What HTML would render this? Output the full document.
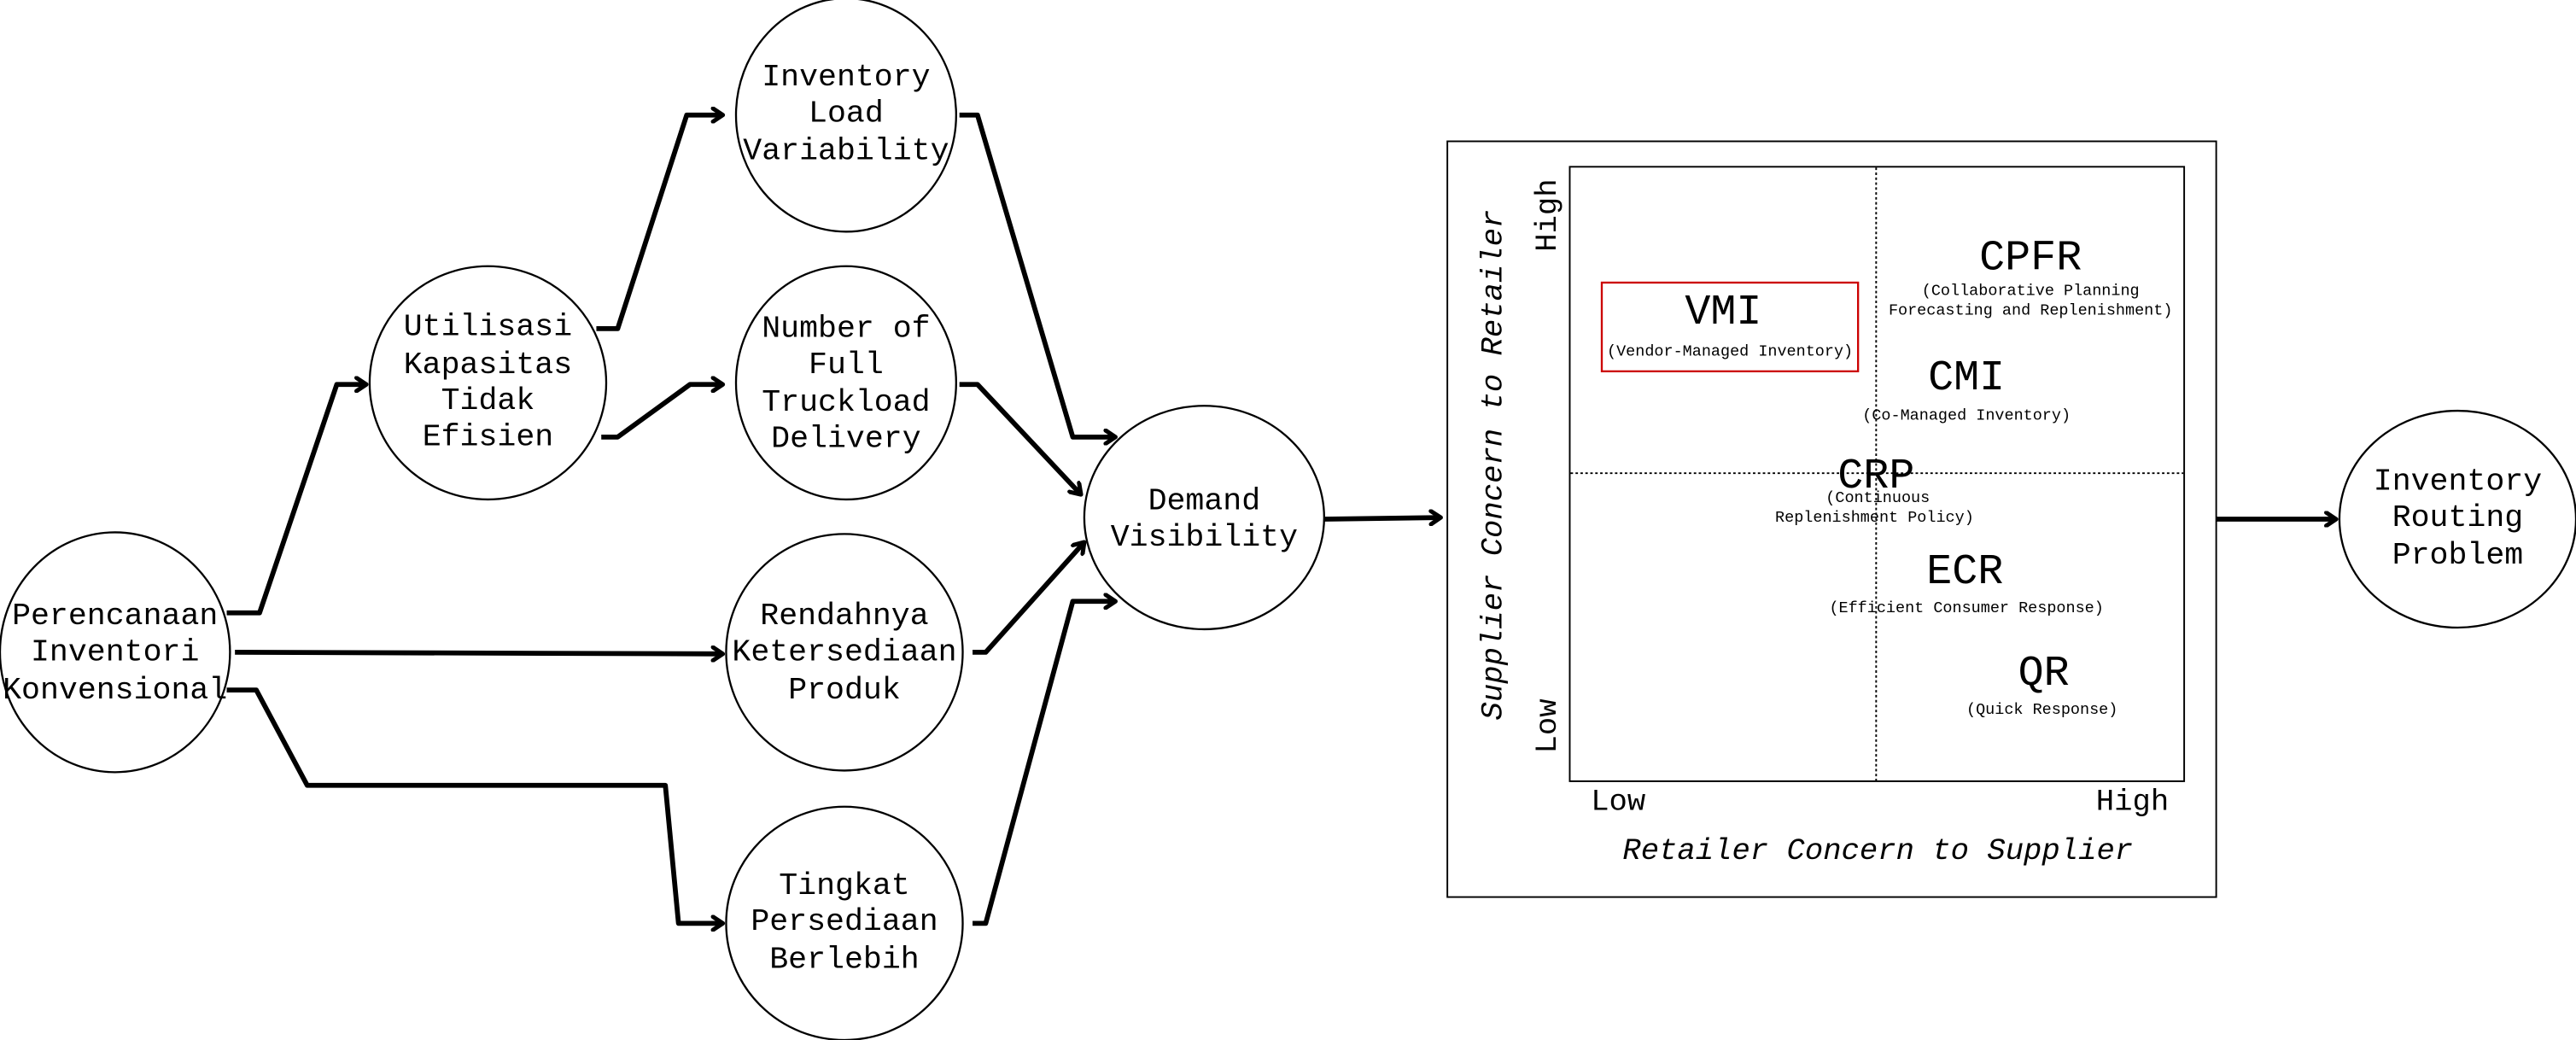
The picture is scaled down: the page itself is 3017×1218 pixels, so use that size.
<!DOCTYPE html>
<html><head><meta charset="utf-8"><style>
html,body{margin:0;padding:0;background:#fff;}
svg{display:block;}
text{font-family:"Liberation Mono",monospace;fill:#000;}
.n{font-size:19px;text-anchor:middle;dominant-baseline:middle;}
.big{font-size:26px;text-anchor:middle;dominant-baseline:middle;}
.sub{font-size:9.6px;text-anchor:middle;dominant-baseline:middle;}
.ax{font-size:18.5px;text-anchor:middle;dominant-baseline:middle;}
.it{font-size:18.5px;font-style:italic;text-anchor:middle;dominant-baseline:middle;}
</style></head><body>
<svg width="3017" height="1218" viewBox="0 0 1568 633" xmlns="http://www.w3.org/2000/svg">
<defs>
<marker id="a" markerWidth="10" markerHeight="10" refX="8" refY="5" orient="auto" markerUnits="userSpaceOnUse">
<path d="M2,1 L8,5 L2,9" fill="none" stroke="#000" stroke-width="2.6" stroke-linecap="round" stroke-linejoin="round"/>
</marker>
</defs>
<g fill="none" stroke="#000" stroke-width="1.2">
<ellipse cx="70" cy="397" rx="70" ry="73"/>
<ellipse cx="297" cy="233" rx="72" ry="71"/>
<ellipse cx="515" cy="70" rx="67" ry="71"/>
<ellipse cx="515" cy="233" rx="67" ry="71"/>
<ellipse cx="514" cy="397" rx="72" ry="72"/>
<ellipse cx="514" cy="562" rx="72" ry="71"/>
<ellipse cx="733" cy="315" rx="73" ry="68"/>
<ellipse cx="1496" cy="316" rx="72" ry="66"/>
</g>
<g fill="none" stroke="#000" stroke-width="3" stroke-linejoin="round" marker-end="url(#a)">
<polyline points="138,373 158,373 205,234 223,234"/>
<polyline points="143,397 440,398"/>
<polyline points="138,420 156,420 187,478 405,478 413,562 440,562"/>
<polyline points="363,200 376,200 418,70 440,70"/>
<polyline points="366,266 376,266 420,234 440,234"/>
<polyline points="584,70 595,70 653,266 679,266"/>
<polyline points="584,234 595,234 658,301"/>
<polyline points="592,397 600,397 660,330"/>
<polyline points="592,562 600,562 653,366 679,366"/>
<polyline points="806,316 877,315"/>
<polyline points="1349,316 1422,316"/>
</g>
<g class="n">
<text class="n" x="70" y="375">Perencanaan</text>
<text class="n" x="70" y="397">Inventori</text>
<text class="n" x="70" y="420">Konvensional</text>
<text class="n" x="297" y="199">Utilisasi</text>
<text class="n" x="297" y="222">Kapasitas</text>
<text class="n" x="297" y="244">Tidak</text>
<text class="n" x="297" y="266">Efisien</text>
<text class="n" x="515" y="47">Inventory</text>
<text class="n" x="515" y="69">Load</text>
<text class="n" x="515" y="92">Variability</text>
<text class="n" x="515" y="200">Number of</text>
<text class="n" x="515" y="222">Full</text>
<text class="n" x="515" y="245">Truckload</text>
<text class="n" x="515" y="267">Delivery</text>
<text class="n" x="514" y="375">Rendahnya</text>
<text class="n" x="514" y="397">Ketersediaan</text>
<text class="n" x="514" y="420">Produk</text>
<text class="n" x="514" y="539">Tingkat</text>
<text class="n" x="514" y="561">Persediaan</text>
<text class="n" x="514" y="584">Berlebih</text>
<text class="n" x="733" y="305">Demand</text>
<text class="n" x="733" y="327">Visibility</text>
<text class="n" x="1496" y="293">Inventory</text>
<text class="n" x="1496" y="315">Routing</text>
<text class="n" x="1496" y="338">Problem</text>
</g>
<rect x="881" y="86" width="468" height="460" fill="none" stroke="#000" stroke-width="1"/>
<rect x="955.5" y="101.5" width="374" height="374" fill="none" stroke="#000" stroke-width="1"/>
<line x1="1142" y1="102" x2="1142" y2="475" stroke="#000" stroke-width="1" stroke-dasharray="1.5,1.5"/>
<line x1="956" y1="288" x2="1329" y2="288" stroke="#000" stroke-width="1" stroke-dasharray="1.5,1.5"/>
<rect x="975" y="172" width="156" height="54" fill="none" stroke="#c00" stroke-width="1.2"/>
<text class="big" x="1236" y="157">CPFR</text>
<text class="sub" x="1236" y="177">(Collaborative Planning</text>
<text class="sub" x="1236" y="189">Forecasting and Replenishment)</text>
<text class="big" x="1049" y="190">VMI</text>
<text class="sub" x="1053" y="214">(Vendor-Managed Inventory)</text>
<text class="big" x="1197" y="230">CMI</text>
<text class="sub" x="1197" y="253">(Co-Managed Inventory)</text>
<text class="big" x="1142" y="290">CRP</text>
<text class="sub" x="1143" y="303">(Continuous</text>
<text class="sub" x="1141" y="315">Replenishment Policy)</text>
<text class="big" x="1196" y="348">ECR</text>
<text class="sub" x="1197" y="370">(Efficient Consumer Response)</text>
<text class="big" x="1244" y="410">QR</text>
<text class="sub" x="1243" y="432">(Quick Response)</text>
<text class="ax" x="985" y="488">Low</text>
<text class="ax" x="1298" y="488">High</text>
<text class="it" x="1143" y="518">Retailer Concern to Supplier</text>
<text class="it" transform="translate(909,283) rotate(-90)">Supplier Concern to Retailer</text>
<text class="ax" transform="translate(942,131) rotate(-90)">High</text>
<text class="ax" transform="translate(942,442) rotate(-90)">Low</text>
</svg>
</body></html>
